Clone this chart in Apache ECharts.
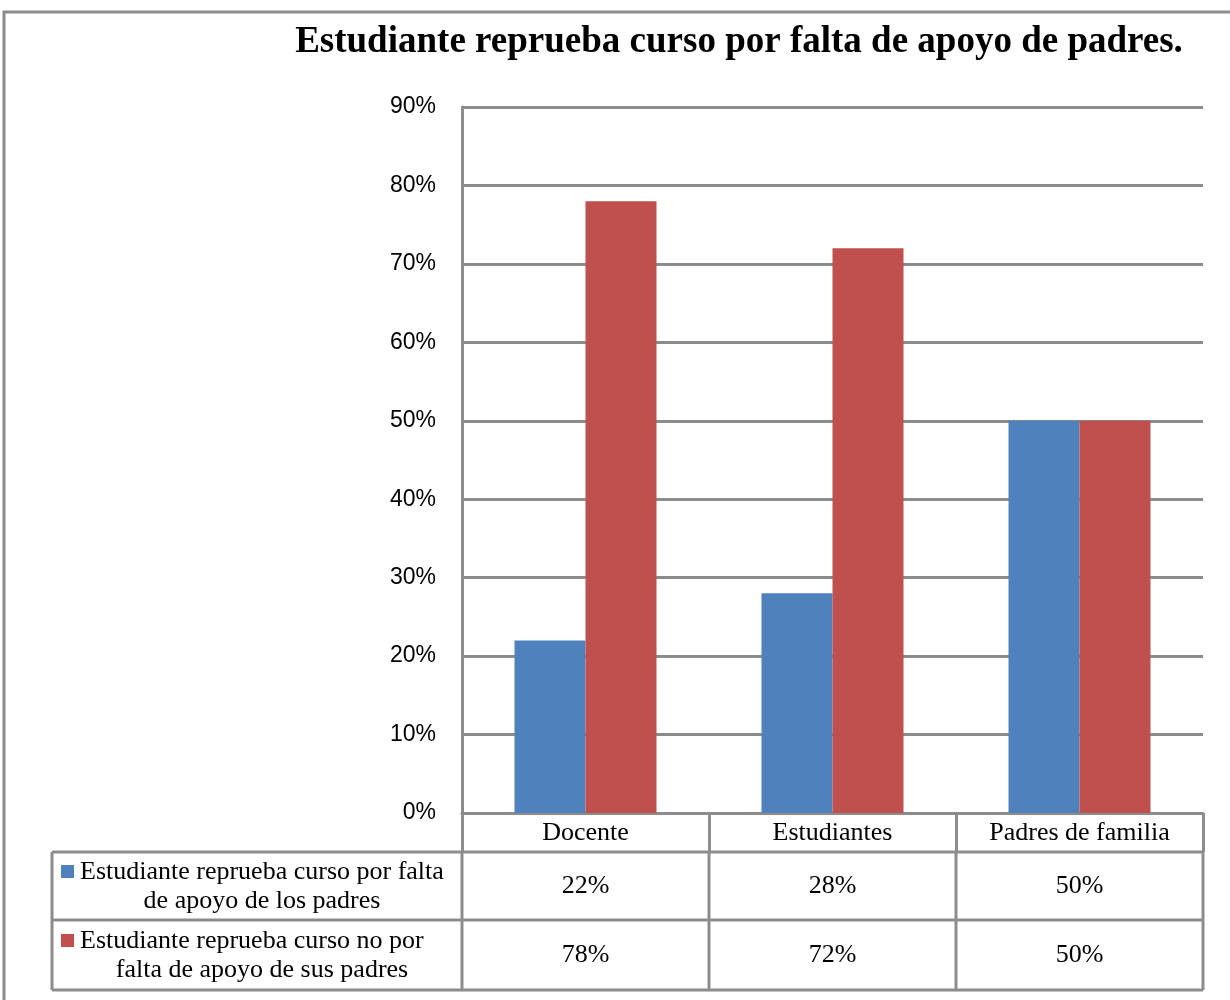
<!DOCTYPE html>
<html>
<head>
<meta charset="utf-8">
<script src="https://cdn.jsdelivr.net/npm/echarts@6/dist/echarts.min.js"></script>
<style>
  html, body { margin: 0; padding: 0; background: #fff; }
  #chart { width: 1230px; height: 1000px; }
</style>
</head>
<body>
<div id="chart"></div>
<script>
// datos del grafico
const chartTitle = 'Estudiante reprueba curso por falta de apoyo de padres.'
const categories = ['Docente', 'Estudiantes', 'Padres de familia']
const seriesNames = [
  'Estudiante reprueba curso por falta de apoyo de los padres',
  'Estudiante reprueba curso no por falta de apoyo de sus padres'
]
const legendLines = [
  ['Estudiante reprueba curso por falta', 'de apoyo de los padres'],
  ['Estudiante reprueba curso no por', 'falta de apoyo de sus padres']
]
const porFaltaApoyo = [0.22, 0.28, 0.50]
const noPorFaltaApoyo = [0.78, 0.72, 0.50]
const seriesData = [porFaltaApoyo, noPorFaltaApoyo]

const colors = ['#4F81BD', '#C0504D']
const lineColor = '#8c8c8c'
const serif = '"Liberation Serif", "Times New Roman", serif'
const sans = '"Liberation Sans", Arial, sans-serif'
const tableFont = 26
const pct = v => Math.round(v * 100) + '%'

const chart = echarts.init(document.getElementById('chart'))

chart.setOption({
  animation: false,
  title: {
    text: chartTitle,
    left: 734,
    top: 19,
    textAlign: 'center',
    textStyle: { fontFamily: serif, fontWeight: 'bold', fontSize: 37, color: '#000' }
  },
  grid: { left: 462, right: 27, top: 107, bottom: 187 },
  xAxis: {
    type: 'category',
    data: categories,
    axisLine: { lineStyle: { color: lineColor, width: 3 } },
    axisTick: { show: true, length: 39, lineStyle: { color: lineColor, width: 3 } },
    axisLabel: { fontFamily: serif, fontSize: tableFont, color: '#000', margin: 7 }
  },
  yAxis: {
    type: 'value',
    min: 0,
    max: 0.9,
    interval: 0.1,
    axisLine: { show: true, lineStyle: { color: lineColor, width: 3 } },
    axisTick: { show: false },
    splitLine: { lineStyle: { color: lineColor, width: 3 } },
    axisLabel: { formatter: pct, fontFamily: sans, fontSize: 23, color: '#000', margin: 26 }
  },
  series: seriesData.map((data, i) => ({
    name: seriesNames[i],
    type: 'bar',
    data: data,
    barWidth: 71,
    barGap: '0%',
    itemStyle: { color: colors[i] }
  }))
})

// tabla de datos debajo del eje
function buildTable() {
  const centers = categories.map(c => chart.convertToPixel({ gridIndex: 0 }, [c, 0]))
  const band = centers[1][0] - centers[0][0]
  const y0 = centers[0][1]
  const xLeft = centers[0][0] - band / 2
  const xRight = centers[centers.length - 1][0] + band / 2
  const tableLeft = 52
  const headerBottom = y0 + 39
  const rowBottoms = [headerBottom + 68, headerBottom + 138]
  const lineStyle = { stroke: lineColor, lineWidth: 3 }
  const font = tableFont + 'px ' + serif
  const els = []

  // bordes horizontales
  ;[headerBottom].concat(rowBottoms).forEach(y => {
    els.push({ type: 'line', shape: { x1: tableLeft, y1: y, x2: xRight, y2: y }, style: lineStyle })
  })
  // bordes verticales
  els.push({ type: 'line', shape: { x1: tableLeft, y1: headerBottom, x2: tableLeft, y2: rowBottoms[1] }, style: lineStyle })
  for (let k = 0; k <= categories.length; k++) {
    const x = xLeft + k * band
    els.push({ type: 'line', shape: { x1: x, y1: headerBottom, x2: x, y2: rowBottoms[1] }, style: lineStyle })
  }

  seriesData.forEach((data, i) => {
    const top = i === 0 ? headerBottom : rowBottoms[0]
    const bottom = rowBottoms[i]
    const mid = (top + bottom) / 2
    const startX = tableLeft + 28
    // leyenda
    els.push({ type: 'rect', shape: { x: tableLeft + 9, y: mid - 21, width: 13, height: 13 }, style: { fill: colors[i] } })
    els.push({ type: 'text', x: startX, y: mid - 14, style: { text: legendLines[i][0], font: font, fill: '#000', textAlign: 'left', textVerticalAlign: 'middle' } })
    els.push({ type: 'text', x: (tableLeft + xLeft) / 2 + 5, y: mid + 15, style: { text: legendLines[i][1], font: font, fill: '#000', textAlign: 'center', textVerticalAlign: 'middle' } })
    // valores
    data.forEach((v, j) => {
      els.push({ type: 'text', x: centers[j][0], y: mid, style: { text: pct(v), font: font, fill: '#000', textAlign: 'center', textVerticalAlign: 'middle' } })
    })
  })

  // marco exterior
  els.push({ type: 'rect', shape: { x: 4, y: 12, width: 1240, height: 1000 }, style: { fill: null, stroke: lineColor, lineWidth: 3 } })

  chart.setOption({ graphic: els })
}

buildTable()
</script>
</body>
</html>
